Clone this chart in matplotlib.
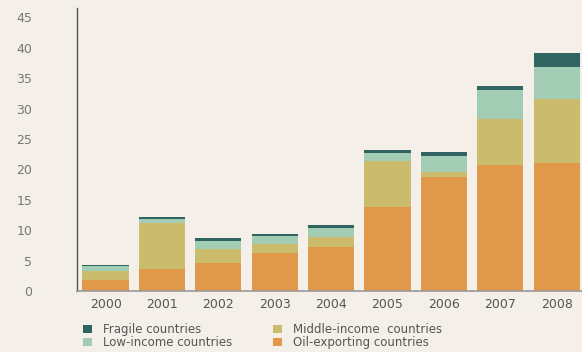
import numpy as np
import matplotlib
matplotlib.use("Agg")
from matplotlib import pyplot as plt

# Donnees (valeurs cumulees par categorie)
years = ["2000", "2001", "2002", "2003", "2004", "2005", "2006", "2007", "2008"]
oil = [1.9, 3.6, 4.55, 6.2, 7.2, 13.8, 18.7, 20.7, 21.1]
middle = [1.4, 7.6, 2.3, 1.5, 1.7, 7.5, 0.8, 7.6, 10.4]
low = [0.85, 0.7, 1.4, 1.35, 1.5, 1.4, 2.7, 4.7, 5.3]
fragile = [0.15, 0.25, 0.4, 0.35, 0.5, 0.5, 0.6, 0.7, 2.4]

colors = {"oil": "#E0984A", "middle": "#CBBB6D", "low": "#A3CCB5", "fragile": "#2F6461"}
bg = "#F4F0E9"

plt.rcParams['font.family'] = ['DejaVu Sans']

fig = plt.figure(figsize=(5.82, 3.52), dpi=100, facecolor=bg)
ax = fig.add_axes([0.132, 0.173, 0.868, 0.804], facecolor=bg)

x = np.arange(len(years))
w = 0.82
b1 = np.array(oil)
b2 = b1 + np.array(middle)
b3 = b2 + np.array(low)
h_oil = ax.bar(x, oil, w, color=colors["oil"], label="Oil-exporting countries")
h_mid = ax.bar(x, middle, w, bottom=b1, color=colors["middle"], label="Middle-income  countries")
h_low = ax.bar(x, low, w, bottom=b2, color=colors["low"], label="Low-income countries")
h_fra = ax.bar(x, fragile, w, bottom=b3, color=colors["fragile"], label="Fragile countries")

ax.set_xlim(-0.51, 8.45)
ax.set_ylim(0, 46.5)
ax.set_yticks(range(0, 50, 5))
ax.set_xticks(x)
ax.set_xticklabels(years)
ax.tick_params(axis="y", length=0, pad=32, labelsize=9, labelcolor="#777777")
ax.tick_params(axis="x", length=0, pad=5, labelsize=9, labelcolor="#555555")

for s in ["top", "right"]:
    ax.spines[s].set_visible(False)
ax.spines["left"].set_color("#555555")
ax.spines["left"].set_linewidth(1.0)
ax.spines["bottom"].set_color("#999999")
ax.spines["bottom"].set_linewidth(1.2)

fig.legend([h_fra, h_low, h_mid, h_oil],
           ["Fragile countries", "Low-income countries", "Middle-income  countries", "Oil-exporting countries"],
           ncol=2, loc="lower left", bbox_to_anchor=(0.125, -0.022), frameon=False,
           fontsize=8.5, handlelength=0.7, handleheight=0.7, handletextpad=1.0,
           columnspacing=3.45, labelspacing=0.0, labelcolor="#555555")

fig.savefig("out.png", dpi=100, facecolor=bg)
